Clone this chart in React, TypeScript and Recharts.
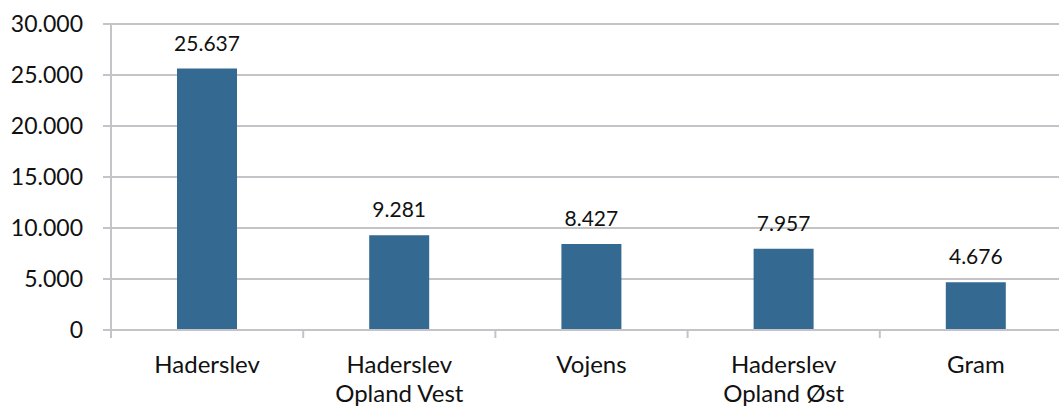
import { BarChart, Bar, XAxis, YAxis, CartesianGrid, LabelList } from 'recharts';

const CATEGORIES = ['Haderslev', 'Haderslev\nOpland Vest', 'Vojens', 'Haderslev\nOpland Øst', 'Gram'];
const VALUES = [25637, 9281, 8427, 7957, 4676];
const Y_TICKS = [0, 5000, 10000, 15000, 20000, 25000, 30000];

const data = CATEGORIES.map((name, i) => ({ name, value: VALUES[i] }));

const FONT = 'Lato, "Open Sans", sans-serif';
const GRAY = '#c4c4c8';
const BAR = '#346a91';

// danish thousand separator
const fmt = (v: number | string) => String(v).replace(/\B(?=(\d{3})+(?!\d))/g, '.');

// excel style: tick marks sit between the categories, not under them
function CategoryTick({ x, y, payload, index, visibleTicksCount }: any) {
  const lines = String(payload.value).split('\n');
  const half = payload.offset || 0;
  const last = index === visibleTicksCount - 1;
  return (
    <g>
      <line x1={x - half} x2={x - half} y1={y} y2={y + 8} stroke={GRAY} strokeWidth={2} />
      {last && <line x1={x + half} x2={x + half} y1={y} y2={y + 8} stroke={GRAY} strokeWidth={2} />}
      <text x={x} y={y} textAnchor="middle" fill="#111" fontSize={24} fontFamily={FONT}>
        {lines.map((l, i) => (
          <tspan key={i} x={x} dy={i === 0 ? 43 : 29}>
            {l}
          </tspan>
        ))}
      </text>
    </g>
  );
}

export default function App() {
  return (
    <div style={{ position: 'fixed', left: 0, top: 0, width: 1059, height: 410, overflow: 'hidden', background: '#fff' }}>
      <BarChart width={1080} height={410} data={data} margin={{ top: 24, right: 8, bottom: 0, left: 0 }}>
        <CartesianGrid vertical={false} stroke={GRAY} strokeWidth={2} />
        <XAxis
          dataKey="name"
          height={80}
          axisLine={{ stroke: GRAY, strokeWidth: 2 }}
          tickLine={false}
          tickSize={0}
          tickMargin={0}
          interval={0}
          tick={<CategoryTick />}
        />
        <YAxis
          width={111}
          domain={[0, 30000]}
          ticks={Y_TICKS}
          tickFormatter={fmt}
          axisLine={{ stroke: GRAY, strokeWidth: 2 }}
          tickLine={{ stroke: GRAY, strokeWidth: 2 }}
          tickSize={8}
          tickMargin={20}
          tick={{ fill: '#111', fontSize: 23, fontFamily: FONT }}
        />
        <Bar dataKey="value" fill={BAR} barSize={60} isAnimationActive={false}>
          <LabelList
            dataKey="value"
            position="top"
            offset={18}
            formatter={(v: any) => fmt(v)}
            style={{ fill: '#111', fontSize: 21, fontFamily: FONT }}
          />
        </Bar>
      </BarChart>
    </div>
  );
}
